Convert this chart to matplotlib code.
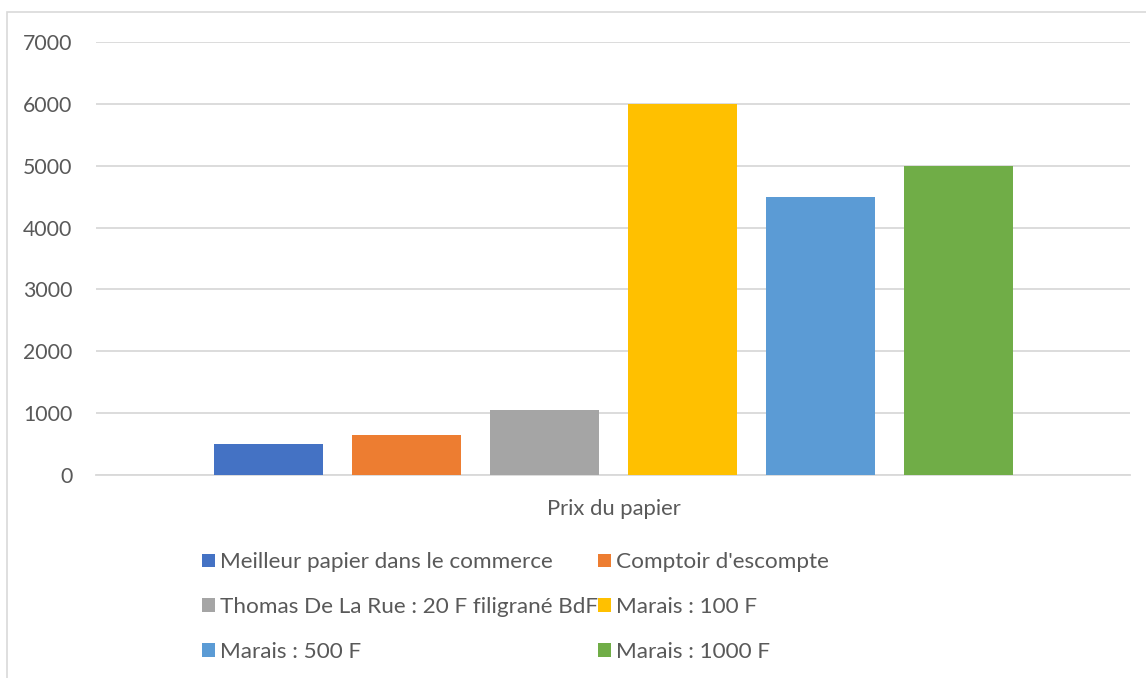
import matplotlib.pyplot as plt
from matplotlib.patches import Rectangle

# données
categorie = "Prix du papier"
series = ["Meilleur papier dans le commerce", "Comptoir d'escompte",
          "Thomas De La Rue : 20 F filigrané BdF", "Marais : 100 F",
          "Marais : 500 F", "Marais : 1000 F"]
valeurs = [500, 640, 1050, 6000, 4500, 5000]
couleurs = ["#4472C4", "#ED7D31", "#A5A5A5", "#FFC000", "#5B9BD5", "#70AD47"]
yticks = [0, 1000, 2000, 3000, 4000, 5000, 6000, 7000]

W, H = 1146, 678
plt.rcParams['font.family'] = ['Lato', 'DejaVu Sans']
fig = plt.figure(figsize=(W / 100, H / 100), dpi=100)

# cadre de la zone du graphique
fig.patches.append(Rectangle((7 / W, -0.1), 1.2, 1 - 12 / H + 0.1,
                             transform=fig.transFigure, fill=False,
                             edgecolor="#d9d9d9", linewidth=1.2))

ax = fig.add_axes([96 / W, 1 - 475 / H, (1130 - 96) / W, (475 - 42) / H])

barres = []
for i, (v, c) in enumerate(zip(valeurs, couleurs)):
    barres.append(ax.bar(i, v, width=0.79, color=c, zorder=3))

ax.set_ylim(0, 7000)
ax.set_xlim(-1.25, 6.243)
ax.set_yticks(yticks)
ax.set_yticklabels([str(t) for t in yticks])
ax.set_xticks([2.5])
ax.set_xticklabels([categorie])
ax.grid(axis='y', color="#d9d9d9", linewidth=1.3, zorder=0)
for s in ['top', 'right', 'left']:
    ax.spines[s].set_visible(False)
ax.spines['bottom'].set_color("#d9d9d9")
ax.spines['bottom'].set_linewidth(1.3)
ax.tick_params(axis='y', length=0, colors="#595959", labelsize=15.3, pad=17)
ax.tick_params(axis='x', length=0, colors="#595959", labelsize=15.8, pad=17)

ordre = [0, 2, 4, 1, 3, 5]
leg = fig.legend([barres[i] for i in ordre], [series[i] for i in ordre],
                 ncol=2, loc='upper left', bbox_to_anchor=(182 / W, 1 - 532 / H),
                 frameon=False, fontsize=16.2, labelcolor="#595959",
                 handlelength=0.55, handleheight=0.55, handletextpad=0.25,
                 columnspacing=0.0, labelspacing=1.1)

fig.savefig("out.png", dpi=100)
